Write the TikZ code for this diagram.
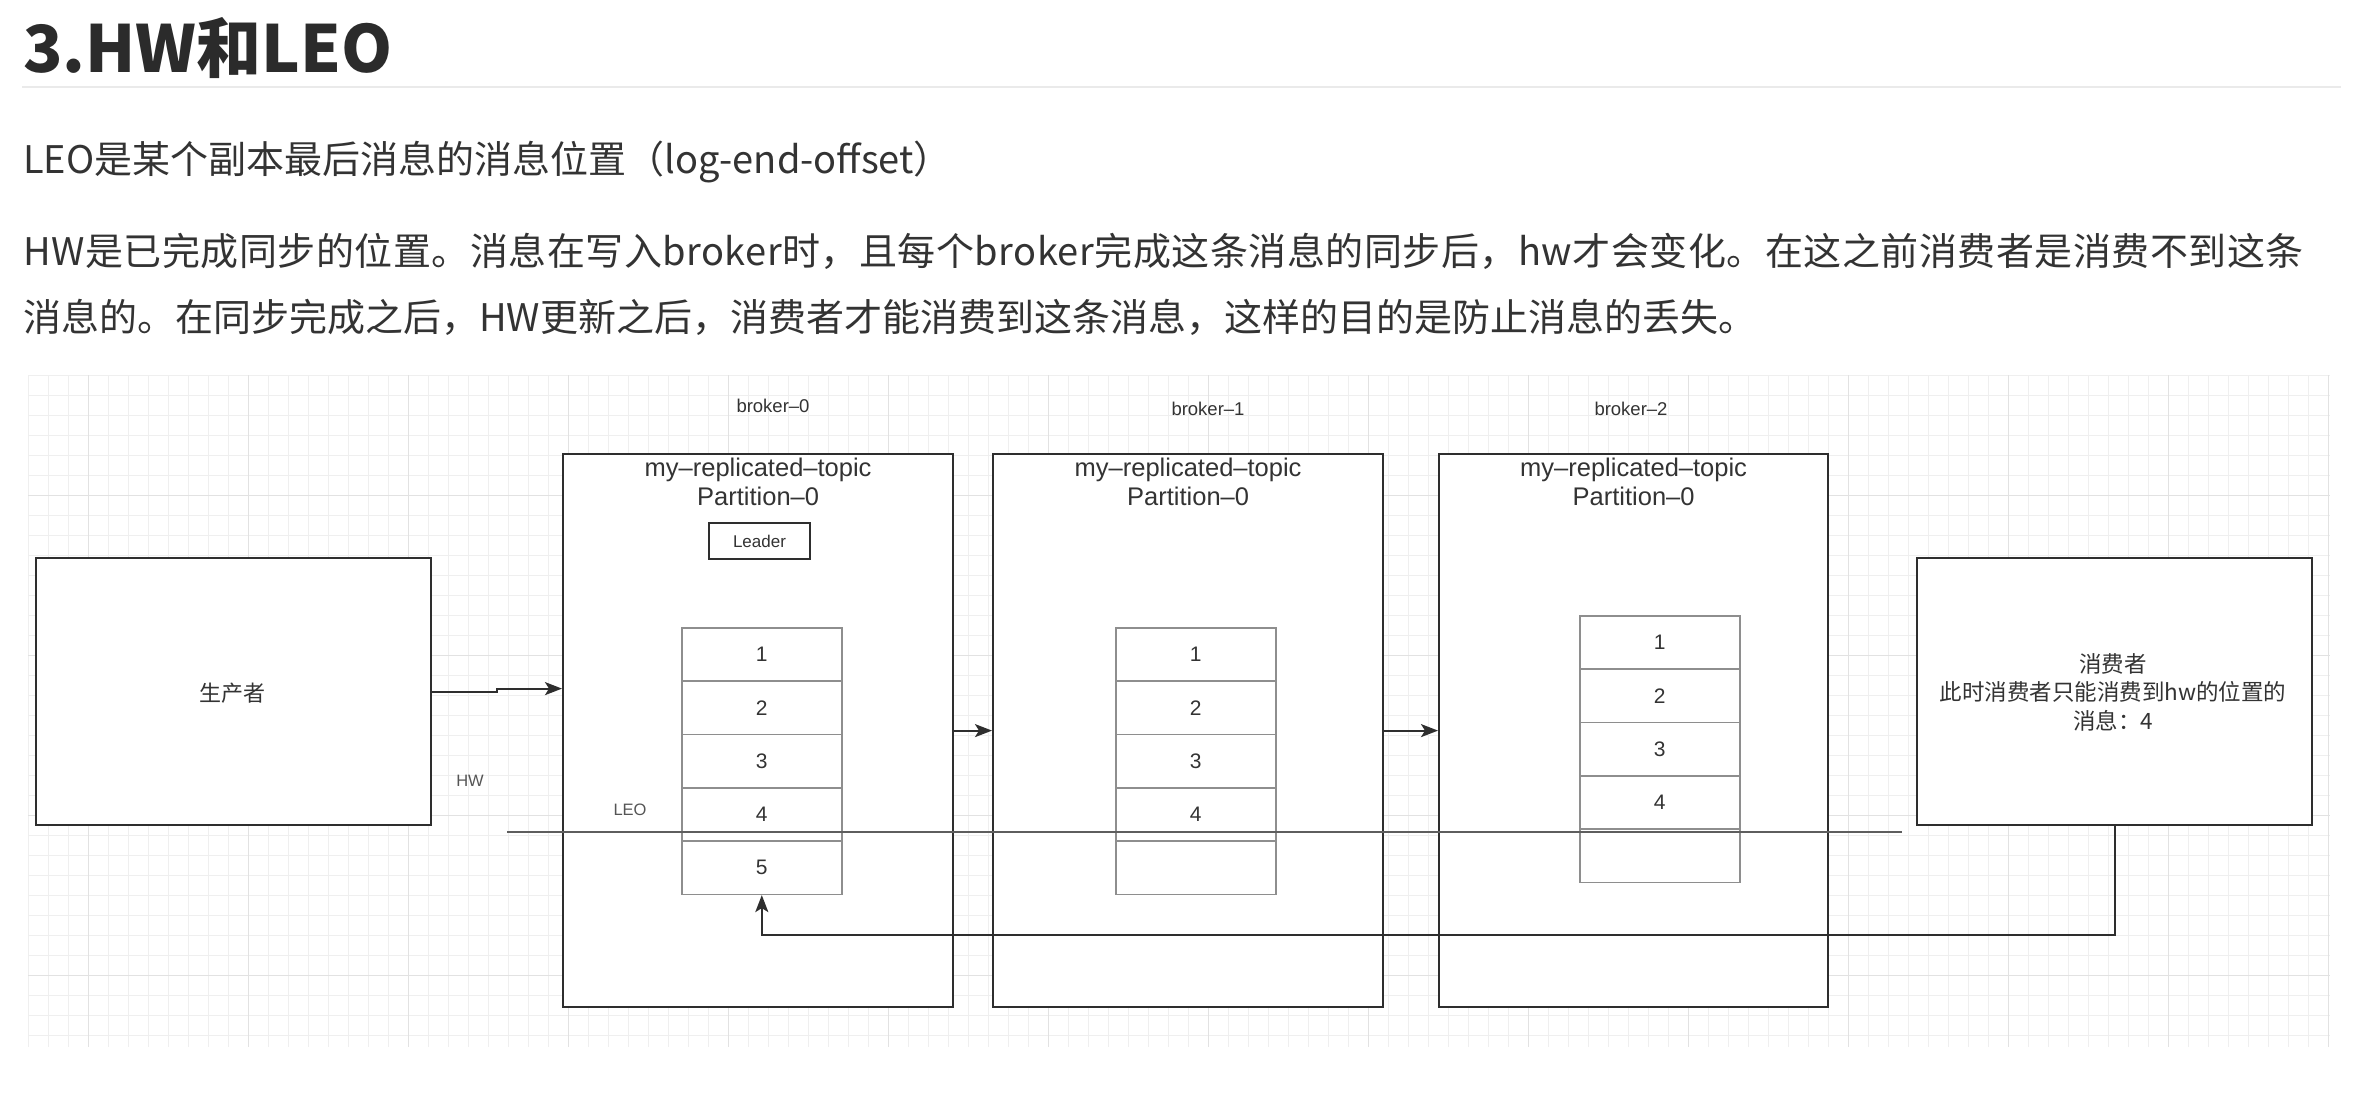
\documentclass[tikz,border=0pt]{standalone}
\usepackage{fontspec}
\setmainfont{Noto Sans CJK SC}
\newfontfamily\widefont[LetterSpace=1.3]{Noto Sans CJK SC}
\newfontfamily\dfont{Liberation Sans}
\usetikzlibrary{arrows.meta}

\definecolor{ink}{HTML}{333333}
\definecolor{titleink}{HTML}{2B2B2B}
\definecolor{boxline}{HTML}{2E2E2E}
\definecolor{cellline}{HTML}{8E8E8E}
\definecolor{hwline}{HTML}{5E5E5E}
\definecolor{gridminor}{HTML}{EFEFEF}
\definecolor{gridmajor}{HTML}{E2E2E2}
\definecolor{rulecol}{HTML}{EAEAEA}
\definecolor{labelink}{HTML}{555555}

\begin{document}
\begin{tikzpicture}[x=1pt,y=-1pt,
  body/.style={anchor=base west, inner sep=0pt, text=ink, font=\fontsize{38}{46}\selectfont},
  bigbox/.style={draw=boxline, line width=2.2pt, fill=white, inner sep=0pt, anchor=north west},
  cell/.style={draw=cellline, line width=1.6pt, fill=white, minimum width=160pt,
    minimum height=53.3pt, inner sep=0pt, anchor=north west, text=ink,
    font=\dfont\fontsize{21}{21}\selectfont},
  toplabel/.style={inner sep=0pt, text=ink, font=\dfont\fontsize{18.5}{18.5}\selectfont},
  topic/.style={inner sep=0pt, align=center, text=ink, font=\dfont\fontsize{25.5}{29}\selectfont},
  sidelabel/.style={inner sep=0pt, text=labelink, font=\dfont\fontsize{16.5}{16.5}\selectfont},
  conn/.style={draw=boxline, line width=2pt, -{Stealth[length=17pt,width=13pt,inset=4pt]}},
]
% page
\useasboundingbox (0,0) rectangle (2368,1101);
\fill[white] (0,0) rectangle (2368,1101);

% heading and paragraph
\node[anchor=base west, inner sep=0pt, text=titleink,
  font=\bfseries\fontsize{65}{65}\selectfont] (title) at (23,72) {3.HW和LEO};
\coordinate (ruleL) at (22,87);
\coordinate (ruleR) at (2341,87);
\draw[rulecol, line width=2pt] (ruleL) -- (ruleR);

\node[body] (p1) at (23,173) {LEO是某个副本最后消息的消息位置（log-end-offset）};
\node[body, font=\widefont\fontsize{38}{46}\selectfont] (p2) at (23,265) {HW是已完成同步的位置。消息在写入broker时，且每个broker完成这条消息的同步后，hw才会变化。在这之前消费者是消费不到这条};
\node[body] (p3) at (23,331) {消息的。在同步完成之后，HW更新之后，消费者才能消费到这条消息，这样的目的是防止消息的丢失。};

% canvas grid
\begin{scope}[line width=1pt]
  \foreach \gx in {28,48,...,2328} \draw[gridminor] (\gx,375) -- (\gx,1047);
  \foreach \gy in {375,395,...,1047} \draw[gridminor] (28,\gy) -- (2330,\gy);
  \foreach \gx in {88,248,...,2328} \draw[gridmajor] (\gx,375) -- (\gx,1047);
  \foreach \gy in {495,655,...,1047} \draw[gridmajor] (28,\gy) -- (2330,\gy);
\end{scope}

% producer and consumer
\node[bigbox, minimum width=395pt, minimum height=267pt] (prod) at (35,557) {};
\node[inner sep=0pt, text=ink, font=\fontsize{22}{22}\selectfont] (prodtxt) at (232,693) {生产者};
\node[bigbox, minimum width=395pt, minimum height=267pt] (cons) at (1916,557) {};
\node[inner sep=0pt, align=center, text=ink, font=\fontsize{22.5}{28.5}\selectfont] (constxt) at (2113,692)
  {消费者\\此时消费者只能消费到hw的位置的\\消息：4};

% brokers
\node[toplabel] (lb0) at (773,406) {broker–0};
\node[toplabel] (lb1) at (1208,409) {broker–1};
\node[toplabel] (lb2) at (1631,409) {broker–2};

\node[bigbox, minimum width=390pt, minimum height=553pt] (b0) at (562,453) {};
\node[bigbox, minimum width=390pt, minimum height=553pt] (b1) at (992,453) {};
\node[bigbox, minimum width=389pt, minimum height=553pt] (b2) at (1438,453) {};

\node[topic] (t0) at (b0.north |- 0,482) {my–replicated–topic\\Partition–0};
\node[topic] (t1) at (b1.north |- 0,482) {my–replicated–topic\\Partition–0};
\node[topic] (t2) at (b2.north |- 0,482) {my–replicated–topic\\Partition–0};

\node[draw=boxline, line width=2.2pt, fill=white, minimum width=101pt, minimum height=36pt,
  inner sep=0pt, text=ink, font=\dfont\fontsize{17}{17}\selectfont] (leader) at (759.5,541) {Leader};

% partition logs
\foreach \i/\t in {1/1,2/2,3/3,4/4,5/5}
  \node[cell] (s0c\i) at (681,{627+53.3*(\i-1)}) {\t};
\foreach \i/\t in {1/1,2/2,3/3,4/4,5/}
  \node[cell] (s1c\i) at (1115,{627+53.3*(\i-1)}) {\t};
\foreach \i/\t in {1/1,2/2,3/3,4/4,5/}
  \node[cell] (s2c\i) at (1579,{615+53.3*(\i-1)}) {\t};

% high watermark
\coordinate (hwL) at (507,832);
\coordinate (hwR) at (1902,832);
\draw[hwline, line width=2pt] (hwL) -- (hwR);
\node[sidelabel] (hwtxt) at (470,781) {HW};
\node[sidelabel] (leotxt) at (630,810) {LEO};

% message flow
\draw[conn] (prod.east) -- ++(65,0) -- ++(0,-3) coordinate (jog) -- (jog -| b0.west);
\draw[conn] (b0.east) -- (b1.west);
\draw[conn] (b1.east) -- (b2.west);
\draw[conn] (cons.south) -- ++(0,109) -| (s0c5.south);
\end{tikzpicture}
\end{document}
